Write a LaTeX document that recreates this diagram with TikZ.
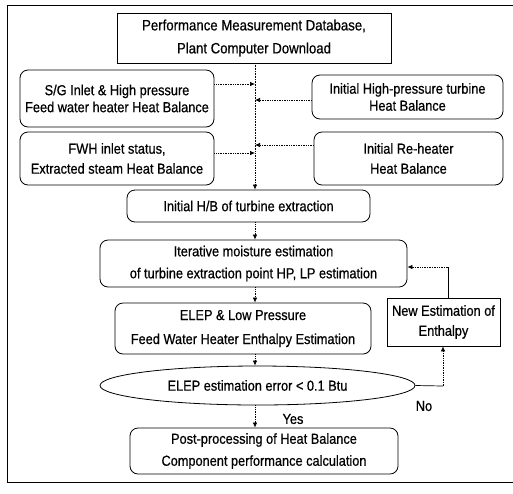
\documentclass[tikz,border=0pt]{standalone}
\usepackage{fontspec}
\setmainfont{Liberation Sans}[FakeStretch=0.88,FakeBold=0.6]
\usetikzlibrary{arrows.meta,shapes.geometric,calc}
\tikzset{
  box/.style={draw, line width=0.8pt, align=center, inner sep=0pt, font=\fontsize{14.5pt}{17pt}\selectfont},
  rbox/.style={box, rounded corners=8pt},
  conn/.style={densely dotted, line width=0.7pt, -{Latex[length=5pt,width=4.5pt]}},
  solidln/.style={line width=0.7pt},
  lbl/.style={font=\fontsize{14.5pt}{15pt}\selectfont, inner sep=0pt}
}
\begin{document}
\begin{tikzpicture}[x=1pt,y=-1pt]
\useasboundingbox (0,0) rectangle (513,493);
% outer frame
\draw[line width=0.9pt] (515,5) -- (7,5) -- (7,482) -- (515,482);
% nodes
\node[box, minimum width=274pt, minimum height=50pt, font=\fontsize{15pt}{23pt}\selectfont] (top) at (254,38) {Performance Measurement Database,\\Plant Computer Download};
\node[rbox, minimum width=194pt, minimum height=57pt] (sg) at (117,98.5) {S/G Inlet \& High pressure\\Feed water heater Heat Balance};
\node[rbox, minimum width=191pt, minimum height=44pt] (hp) at (407.5,97) {Initial High-pressure turbine\\Heat Balance};
\node[rbox, minimum width=194pt, minimum height=53pt, font=\fontsize{14.5pt}{20pt}\selectfont] (fwh) at (117,158.5) {FWH inlet status,\\Extracted steam Heat Balance};
\node[rbox, minimum width=189pt, minimum height=53pt, font=\fontsize{14.5pt}{20pt}\selectfont] (rh) at (408.5,158.5) {Initial Re-heater\\Heat Balance};
\node[rbox, minimum width=243pt, minimum height=32pt] (hb) at (248.5,206) {Initial H/B of turbine extraction};
\node[rbox, minimum width=307pt, minimum height=47pt, font=\fontsize{14.5pt}{22pt}\selectfont] (it) at (253.5,263.5) {Iterative moisture estimation\\of turbine extraction point HP, LP estimation};
\node[rbox, minimum width=256pt, minimum height=51pt, font=\fontsize{14.5pt}{24pt}\selectfont] (elep) at (243,328.5) {ELEP \& Low Pressure\\Feed Water Heater Enthalpy Estimation};
\node[box, minimum width=113pt, minimum height=48pt, font=\fontsize{14.5pt}{20pt}\selectfont] (newest) at (443.5,322) {New Estimation of\\Enthalpy};
\node[draw, ellipse, line width=0.8pt, minimum width=315pt, minimum height=39pt, inner sep=0pt, font=\fontsize{14.5pt}{15pt}\selectfont] (ell) at (257.5,385.5) {ELEP estimation error < 0.1 Btu};
\node[rbox, minimum width=268pt, minimum height=46pt, font=\fontsize{14.5pt}{22pt}\selectfont] (post) at (264,451) {Post-processing of Heat Balance\\Component performance calculation};
\node[lbl] (yes) at (293,419) {Yes};
\node[lbl] (no) at (424,406) {No};
% spine
\coordinate (s0) at (255,63);
\coordinate (a1) at (255,84);
\coordinate (a2) at (255,100);
\coordinate (a3) at (255,145);
\coordinate (a4) at (255,153);
\draw[densely dotted, line width=0.6pt] (s0) -- (a4);
\draw[conn] (a4) -- (a4 |- hb.north);
\draw[conn] (sg.east |- a1) -- (a1);
\draw[conn] (hp.west |- a2) -- (a2);
\draw[conn] (rh.west |- a3) -- (a3);
\draw[conn] (fwh.east |- a4) -- (a4);
\draw[conn] (a4 |- hb.south) -- (a4 |- it.north);
\draw[conn] (a4 |- it.south) -- (a4 |- elep.north);
\draw[conn] (a4 |- elep.south) -- (a4 |- ell.north);
\draw[conn] (a4 |- ell.south) -- (a4 |- post.north);
% loop
\coordinate (c1) at (448,267);
\coordinate (c2) at (443,386);
\draw[solidln] (newest.north -| c1) -- (c1);
\draw[conn] (c1) -- (c1 -| it.east);
\draw[solidln] (ell.east) -- (c2);
\draw[conn] (c2) -- (c2 |- newest.south);
\end{tikzpicture}
\end{document}
